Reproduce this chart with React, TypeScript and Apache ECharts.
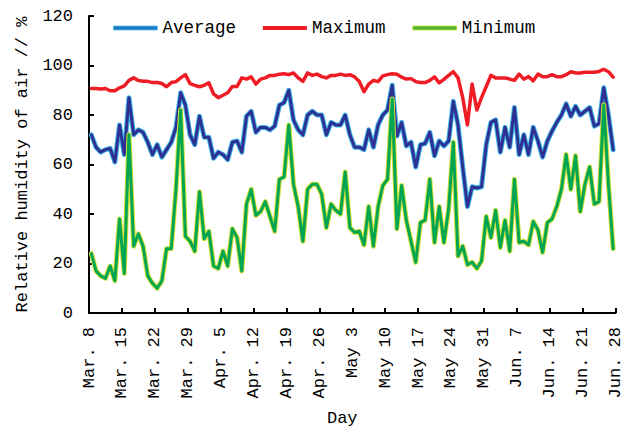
import React, { useEffect, useRef } from 'react';
import * as echarts from 'echarts';

const tickLabels = [
  'Mar. 8', 'Mar. 15', 'Mar. 22', 'Mar. 29', 'Apr. 5', 'Apr. 12', 'Apr. 19', 'Apr. 26',
  'May 3', 'May 10', 'May 17', 'May 24', 'May 31', 'Jun. 7', 'Jun. 14', 'Jun. 21', 'Jun. 28',
];

// daily values, Mar. 8 – Jun. 27 (112 days)
const average = [
  72, 67, 65, 66, 66.5, 61, 76, 64, 87, 72, 74, 73, 69, 64, 68, 63, 66, 69, 75, 89,
  84, 72, 68, 79.5, 71, 71, 62.5, 65, 64, 62, 69, 69.5, 65, 79.5, 81.5, 73, 75, 75, 74, 75.5,
  84, 85, 90, 78, 74, 72, 80, 81.5, 80, 80, 72, 77, 76, 76, 80, 72, 67, 67, 66, 74,
  67, 76, 80, 82, 92, 71.5, 77, 67.5, 69, 59, 68, 68.5, 73, 63.5, 69.5, 67.5, 69.5, 85.5, 76, 59,
  43, 51, 50.5, 51, 68, 77, 78, 65, 75, 67, 83, 64, 72, 64, 75, 69.5, 63, 69.5, 73.5, 77,
  80, 84.5, 79.5, 83.5, 80, 81.5, 83, 75.5, 76.5, 91, 80, 66,
];

const maximum = [
  90.7, 90.7, 90.5, 90.7, 89.8, 89.8, 91, 91.8, 94, 95, 93.9, 93.6, 93.6, 93.1, 93.1, 92.7, 91.4, 93.1, 93.5, 95,
  96.3, 92.7, 92, 91.4, 92, 93, 88.5, 87, 88, 89, 91.5, 91.5, 95, 94.5, 95.4, 92.5, 94.5, 95, 96, 96,
  96.5, 96.7, 96.3, 97, 95, 93.6, 97, 96, 96.5, 95.5, 95, 96, 96, 96.5, 96, 96.3, 95.4, 93.5, 89.4, 92.5,
  94, 93.5, 95.8, 96.3, 96.7, 96.5, 95.3, 94.5, 94.7, 93.5, 93.1, 93.1, 94, 95.4, 93, 94.4, 96, 97.5, 95, 87,
  76, 92.5, 82, 87, 91.5, 96, 95, 95, 95, 94.5, 94, 96.5, 94.5, 95.5, 93.8, 96.5, 95.5, 95.5, 96.3, 95.5,
  95.5, 96.3, 97.5, 97, 97, 97.3, 97.3, 97.3, 97.6, 98.5, 97.5, 95.3,
];

const minimum = [
  24, 17, 15, 14, 19, 13, 38, 16, 72, 27, 32, 27, 15, 12, 10, 13, 26, 26, 50, 82,
  31, 29, 25, 49, 30, 33, 19, 18, 25, 19, 34, 30.5, 17, 44, 50, 39.5, 41, 45, 39, 33,
  54, 55, 76, 52, 43, 29, 50, 52, 52, 48, 34.5, 44, 41.5, 40, 57, 34.5, 32.5, 33, 27.5, 43,
  27, 43, 51.5, 54, 86.5, 34, 51.5, 37.5, 29, 20.5, 36.5, 37.5, 54, 28.5, 43, 28.5, 42, 69, 23, 27,
  19.5, 20.5, 18, 21, 39, 30.5, 41.5, 26.5, 37.5, 25, 54, 28.5, 29, 27.5, 37, 33.5, 24.5, 36.5, 38, 43,
  50, 64, 50, 63.5, 41, 52, 59, 44, 45, 84, 52, 26,
];

const FONT = '"Liberation Mono", "DejaVu Sans Mono", monospace';

export default function App() {
  const ref = useRef<HTMLDivElement>(null);

  useEffect(() => {
    const chart = echarts.init(ref.current!, null, { renderer: 'svg' });
    const pts = (arr: number[]) => arr.map((v, i) => [i + 0.5, v]);
    const lineSeries = (name: string, data: number[], color: string, width: number, z: number) => ({
      name,
      type: 'line',
      data: pts(data),
      symbol: 'none',
      showSymbol: false,
      z,
      lineStyle: { color, width, join: 'round', cap: 'round' },
      itemStyle: { color },
      emphasis: { disabled: true },
    });

    chart.setOption({
      animation: false,
      backgroundColor: '#fff',
      textStyle: { fontFamily: FONT, color: '#000' },
      grid: { left: 89, right: 9.5, top: 16, bottom: 113.7, containLabel: false },
      legend: {
        left: 108,
        top: 14,
        icon: 'rect',
        itemWidth: 44,
        itemHeight: 4,
        itemGap: 27,
        textStyle: { fontFamily: FONT, fontSize: 17.5, color: '#000' },
        data: [
          { name: 'Average', itemStyle: { color: '#1c78c0', borderColor: '#5cc3f0', borderWidth: 0.8 } },
          { name: 'Maximum', itemStyle: { color: '#ee1c25', borderWidth: 0 } },
          { name: 'Minimum', itemStyle: { color: '#4db52e', borderColor: '#c9de3a', borderWidth: 0.8 } },
        ],
      },
      xAxis: {
        type: 'value',
        min: 0,
        max: 112,
        interval: 7,
        name: 'Day',
        nameLocation: 'middle',
        nameGap: 97,
        nameTextStyle: { fontFamily: FONT, fontSize: 17, color: '#000', padding: [0, 20, 0, 0] },
        axisLine: { show: true, lineStyle: { color: '#000', width: 2 } },
        axisTick: { show: true, inside: true, length: 5, lineStyle: { color: '#000', width: 2 } },
        splitLine: { show: false },
        axisLabel: {
          rotate: 90,
          margin: 14,
          fontFamily: FONT,
          fontSize: 17,
          color: '#000',
          showMinLabel: true,
          showMaxLabel: true,
          formatter: (v: number) => tickLabels[Math.round(v / 7)] ?? '',
        },
      },
      yAxis: {
        type: 'value',
        min: 0,
        max: 120,
        interval: 20,
        name: 'Relative humidity of air // %',
        nameLocation: 'middle',
        nameGap: 58,
        nameRotate: 90,
        nameTextStyle: { fontFamily: FONT, fontSize: 17, color: '#000' },
        axisLine: { show: true, lineStyle: { color: '#000', width: 2 } },
        axisTick: { show: true, inside: true, length: 5, lineStyle: { color: '#000', width: 2 } },
        splitLine: { show: false },
        axisLabel: { margin: 16, fontFamily: FONT, fontSize: 17, color: '#000' },
      },
      series: [
        lineSeries('Average edge', average, '#3fb6ea', 5, 1),
        lineSeries('Average', average, '#2e3192', 3, 2),
        lineSeries('Maximum', maximum, '#ee1c25', 3.5, 3),
        lineSeries('Minimum edge', minimum, '#d6e03a', 5, 4),
        lineSeries('Minimum', minimum, '#00a651', 3, 5),
      ],
    });

    return () => chart.dispose();
  }, []);

  return (
    <div
      ref={ref}
      style={{ position: 'fixed', left: 0, top: 0, width: 625, height: 432 }}
    />
  );
}
